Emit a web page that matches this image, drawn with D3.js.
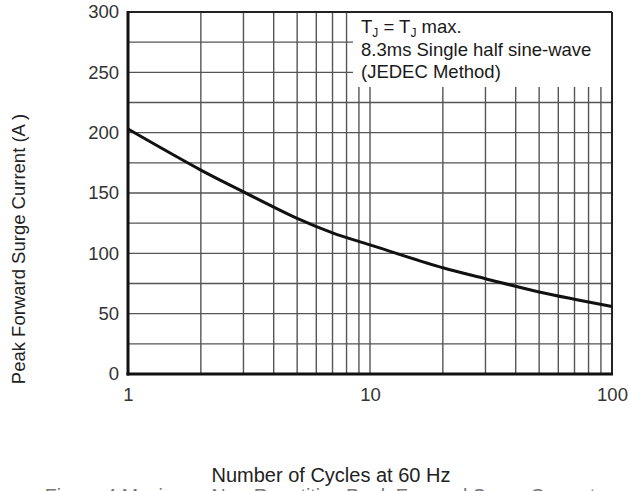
<!DOCTYPE html>
<html>
<head>
<meta charset="utf-8">
<script src="https://cdn.jsdelivr.net/npm/d3@7"></script>
<style>
  body { margin: 0; background: #fff; }
  text { font-family: "Liberation Sans", Arial, sans-serif; }
</style>
</head>
<body>
<svg id="chart" width="629" height="491"></svg>
<script>
// surge current vs number of cycles
const cycles = [1, 2, 3, 5, 7, 10, 20, 30, 50, 100];
const current = [203, 169, 151, 129, 117, 107, 88, 79, 68, 56];
const yTicks = [0, 50, 100, 150, 200, 250, 300];
const xTicks = [1, 10, 100];
const hGrid = [25, 50, 75, 100, 125, 150, 175, 200, 225, 250, 275];
const vGrid = [2, 3, 4, 5, 6, 7, 8, 9, 10, 20, 30, 40, 50, 60, 70, 80, 90];
const noteLines = ["8.3ms Single half sine-wave", "(JEDEC Method)"];

var margin = {top: 12, right: 17, bottom: 117, left: 128},
    width = 629 - margin.left - margin.right,
    height = 491 - margin.top - margin.bottom;

var svg = d3.select("#chart")
  .append("g")
  .attr("transform", "translate(" + margin.left + "," + margin.top + ")");

var x = d3.scaleLog().domain([1, 100]).range([0, width]);
var y = d3.scaleLinear().domain([0, 300]).range([height, 0]);

// grid
svg.append("g").selectAll("line")
  .data(hGrid)
  .join("line")
  .attr("x1", 0).attr("x2", width)
  .attr("y1", d => y(d)).attr("y2", d => y(d))
  .attr("stroke", "#555").attr("stroke-width", 1.4);

svg.append("g").selectAll("line")
  .data(vGrid)
  .join("line")
  .attr("x1", d => x(d)).attr("x2", d => x(d))
  .attr("y1", 0).attr("y2", height)
  .attr("stroke", "#555").attr("stroke-width", 1.4);

// white box behind the note
var boxX = 225, boxH = 75;
svg.append("rect")
  .attr("x", boxX).attr("y", 0)
  .attr("width", width - boxX).attr("height", boxH)
  .attr("fill", "#fff");

// note text
var note = svg.append("g").attr("font-size", 18.5).attr("fill", "#1a1a1a");
var t1 = note.append("text").attr("x", boxX + 8).attr("y", 21);
t1.append("tspan").text("T");
t1.append("tspan").attr("font-size", 12).attr("dy", 4).text("J");
t1.append("tspan").attr("dy", -4).text(" = T");
t1.append("tspan").attr("font-size", 12).attr("dy", 4).text("J");
t1.append("tspan").attr("dy", -4).text(" max.");
note.selectAll("text.line")
  .data(noteLines)
  .join("text")
  .attr("class", "line")
  .attr("x", boxX + 8)
  .attr("y", (d, i) => 43.5 + i * 22.5)
  .text(d => d);

// frame
svg.append("line").attr("x1", 0).attr("x2", width).attr("y1", 0).attr("y2", 0)
  .attr("stroke", "#222").attr("stroke-width", 2);
svg.append("line").attr("x1", width).attr("x2", width).attr("y1", 0).attr("y2", height)
  .attr("stroke", "#222").attr("stroke-width", 2);
svg.append("line").attr("x1", 0).attr("x2", 0).attr("y1", -1).attr("y2", height + 1.5)
  .attr("stroke", "#111").attr("stroke-width", 3);
svg.append("line").attr("x1", -1.5).attr("x2", width + 1).attr("y1", height).attr("y2", height)
  .attr("stroke", "#111").attr("stroke-width", 3);

// curve
svg.append("path")
  .datum(cycles.map((c, i) => [c, current[i]]))
  .attr("fill", "none")
  .attr("stroke", "#111")
  .attr("stroke-width", 3)
  .attr("d", d3.line()
    .x(d => x(d[0]))
    .y(d => y(d[1]))
    .curve(d3.curveCatmullRom));

// axes (labels only)
var yAxis = svg.append("g")
  .call(d3.axisLeft(y).tickValues(yTicks).tickSize(0).tickPadding(9));
yAxis.select(".domain").remove();
yAxis.selectAll("text").attr("font-size", 18.5).attr("fill", "#333")
  .attr("font-family", "Liberation Sans, Arial, sans-serif");

var xAxis = svg.append("g")
  .attr("transform", "translate(0," + height + ")")
  .call(d3.axisBottom(x).tickValues(xTicks).tickFormat(d3.format("d")).tickSize(0).tickPadding(14));
xAxis.select(".domain").remove();
xAxis.selectAll("text").attr("font-size", 18.5).attr("fill", "#333")
  .attr("font-family", "Liberation Sans, Arial, sans-serif");

// titles
d3.select("#chart").append("text")
  .attr("transform", "translate(25,249) rotate(-90)")
  .attr("text-anchor", "middle")
  .attr("font-size", 18.5)
  .attr("fill", "#222")
  .text("Peak Forward Surge Current (A )");

d3.select("#chart").append("text")
  .attr("x", 331).attr("y", 482)
  .attr("text-anchor", "middle")
  .attr("font-size", 20)
  .attr("fill", "#222")
  .text("Number of Cycles at 60 Hz");

d3.select("#chart").append("text")
  .attr("x", 320).attr("y", 503)
  .attr("text-anchor", "middle")
  .attr("font-size", 19.5)
  .attr("fill", "#777")
  .text("Figure 4 Maximum Non-Repetitive Peak Forward Surge Current");
</script>
</body>
</html>
